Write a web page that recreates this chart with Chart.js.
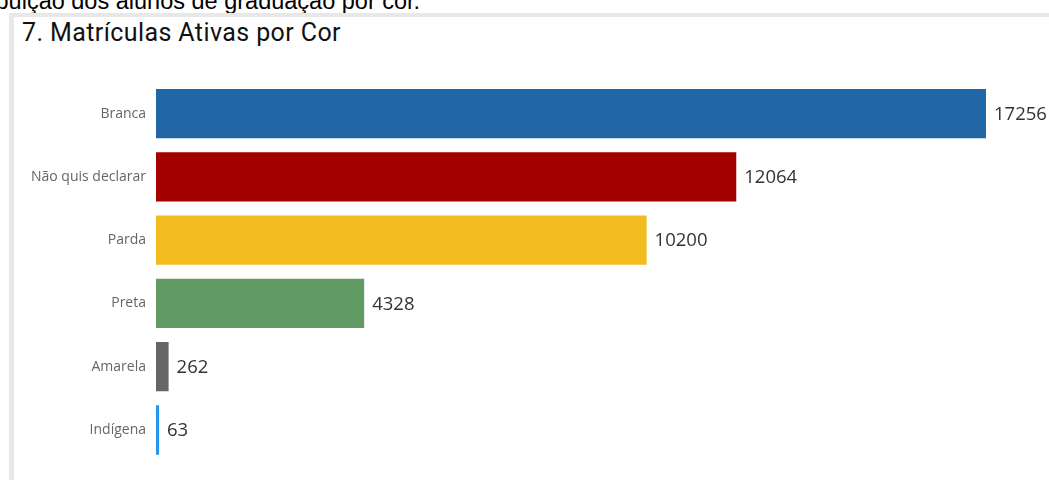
<!DOCTYPE html>
<html>
<head>
<meta charset="utf-8">
<script src="https://cdn.jsdelivr.net/npm/chart.js@4"></script>
<style>
  html, body { margin: 0; padding: 0; background: #fff; overflow: hidden; }
  #wrap { position: relative; width: 1049px; height: 480px; }
  #caption { position: absolute; left: -58px; top: -10px; font: 23.5px/23.5px "Liberation Sans", Arial, sans-serif; color: #000; white-space: nowrap; }
  #frameTop { position: absolute; left: 9px; top: 13px; width: 1040px; height: 4px; background: #e8e8e8; }
  #frameLeft { position: absolute; left: 9px; top: 13px; width: 5px; height: 467px; background: #e8e8e8; }
  #title { position: absolute; left: 22px; top: 18px; font: 25px Roboto, sans-serif; letter-spacing: 0.4px; color: #111; white-space: nowrap; }
  #chart { position: absolute; left: 0; top: 0; }
</style>
</head>
<body>
<div id="wrap">
  <div id="caption">Distribuição dos alunos de graduação por cor.</div>
  <div id="frameTop"></div>
  <div id="frameLeft"></div>
  <div id="title">7. Matrículas Ativas por Cor</div>
  <canvas id="chart" width="1049" height="480"></canvas>
</div>
<script>
const categories = ["Branca", "Não quis declarar", "Parda", "Preta", "Amarela", "Indígena"];
const matriculas = [17256, 12064, 10200, 4328, 262, 63];
const barColors = ["#2167a6", "#a50000", "#f2bc1f", "#619a62", "#666666", "#2196f3"];

const valueLabels = {
    id: "valueLabels",
    afterDatasetsDraw(chart) {
        const ctx = chart.ctx;
        const meta = chart.getDatasetMeta(0);
        ctx.save();
        ctx.font = '18.5px "Open Sans", sans-serif';
        ctx.fillStyle = "#333";
        ctx.textAlign = "left";
        ctx.textBaseline = "middle";
        meta.data.forEach((bar, i) => {
            ctx.fillText(String(matriculas[i]), bar.x + 8, bar.y + 1);
        });
        ctx.restore();
    }
};

new Chart(document.getElementById("chart"), {
    type: "bar",
    data: {
        labels: categories,
        datasets: [{
            data: matriculas,
            backgroundColor: barColors,
            barPercentage: 0.78,
            categoryPercentage: 1
        }]
    },
    options: {
        indexAxis: "y",
        responsive: false,
        animation: false,
        layout: { padding: { top: 82, bottom: 14, right: 63, left: 0 } },
        plugins: { legend: { display: false }, tooltip: { enabled: false } },
        scales: {
            x: { min: 0, max: 17256, display: false },
            y: {
                grid: { display: false, drawTicks: false },
                border: { display: false },
                ticks: { color: "#666", padding: 10, font: { family: "Open Sans", size: 14 } },
                afterFit(scale) { scale.width = 156; }
            }
        }
    },
    plugins: [valueLabels]
});
</script>
</body>
</html>
